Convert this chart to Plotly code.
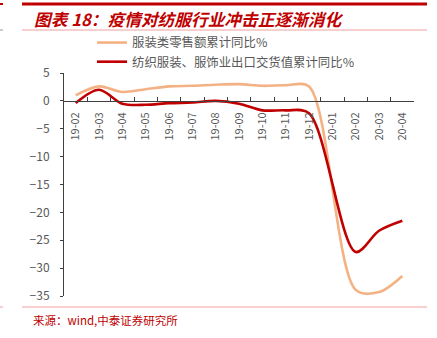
import plotly.graph_objects as go

categories = ["19-02", "19-03", "19-04", "19-05", "19-06", "19-07", "19-08",
              "19-09", "19-10", "19-11", "19-12", "20-01", "20-02", "20-03", "20-04"]
retail = [1.0, 2.6, 1.6, 2.1, 2.6, 2.7, 2.9, 3.0, 2.7, 2.8, 2.6, None, -33.9, -34.3, -31.4]
export = [-0.4, 2.0, -0.5, -0.7, -0.4, -0.3, 0.0, -0.5, -1.7, -1.7, -2.2, None, -27.1, -23.3, -21.5]
name_retail = "服装类零售额累计同比%"
name_export = "纺织服装、服饰业出口交货值累计同比%"
y_ticks = [5, 0, -5, -10, -15, -20, -25, -30, -35]

W, H = 437, 338
L, R, T, B = 64, 23, 73, 42
PW, PH = W - L - R, H - T - B

def px(x):
    return (x - L) / PW

def py(y):
    return (H - B - y) / PH

YMIN, YMAX = -35, 5

fig = go.Figure()
fig.add_trace(go.Scatter(x=categories, y=retail, name=name_retail, mode="lines",
                         connectgaps=True,
                         line=dict(color="#F4B183", width=2.6, shape="spline", smoothing=0.9)))
fig.add_trace(go.Scatter(x=categories, y=export, name=name_export, mode="lines",
                         connectgaps=True,
                         line=dict(color="#C00000", width=2.6, shape="spline", smoothing=0.9)))

red = "#C00000"
light = "#F2A0A0"
shapes = [
    dict(type="line", xref="paper", yref="paper", x0=px(22), x1=px(427), y0=py(4), y1=py(4),
         line=dict(color=red, width=3)),
    dict(type="line", xref="paper", yref="paper", x0=px(22), x1=px(427), y0=py(30), y1=py(30),
         line=dict(color=light, width=1)),
    dict(type="line", xref="paper", yref="paper", x0=px(22), x1=px(427), y0=py(307), y1=py(307),
         line=dict(color=light, width=1)),
    dict(type="line", xref="paper", yref="paper", x0=px(0), x1=px(3), y0=py(4), y1=py(4),
         line=dict(color=red, width=2)),
    dict(type="line", xref="paper", yref="paper", x0=px(0), x1=px(3), y0=py(30), y1=py(30),
         line=dict(color="#999999", width=1)),
    dict(type="line", xref="paper", yref="paper", x0=px(0), x1=px(3), y0=py(307), y1=py(307),
         line=dict(color=light, width=1)),
]

annotations = [
    dict(text="<b><i>图表 18：疫情对纺服行业冲击正逐渐消化</i></b>", xref="paper", yref="paper",
         x=px(32), y=py(19), xanchor="left", yanchor="middle", showarrow=False,
         font=dict(size=16.7, color=red, family="Noto Sans CJK SC")),
    dict(text="来源：wind,中泰证券研究所", xref="paper", yref="paper",
         x=px(31), y=py(320), xanchor="left", yanchor="middle", showarrow=False,
         font=dict(size=11.5, color=red, family="Noto Sans CJK SC")),
]

fig.update_layout(
    width=W, height=H,
    margin=dict(l=L, r=R, t=T, b=B, pad=0),
    paper_bgcolor="white", plot_bgcolor="white",
    font=dict(family="Noto Sans CJK SC, sans-serif", color="#595959", size=11),
    showlegend=True,
    legend=dict(x=px(92), y=py(28), xanchor="left", yanchor="top",
                font=dict(size=12.4, color="#595959"), bgcolor="rgba(0,0,0,0)",
                itemwidth=30, tracegroupgap=0),
    shapes=shapes,
    annotations=annotations,
    xaxis=dict(type="category", range=[-0.5, 14.5], anchor="free",
               position=(0 - YMIN) / (YMAX - YMIN),
               showline=True, linecolor="#404040", linewidth=1,
               ticks="inside", ticklen=4, tickcolor="#404040", tickson="boundaries",
               tickangle=-90, tickfont=dict(size=11, color="#595959"),
               ticklabelstandoff=6, showgrid=False, zeroline=False),
    yaxis=dict(range=[YMIN, YMAX], tickvals=y_ticks, showline=True, linecolor="#404040",
               linewidth=1, ticks="outside", ticklen=3, tickcolor="#404040",
               tickfont=dict(size=12, color="#595959"), showgrid=False, zeroline=False,
               ticklabelstandoff=8),
)

fig.write_html("out.html")
